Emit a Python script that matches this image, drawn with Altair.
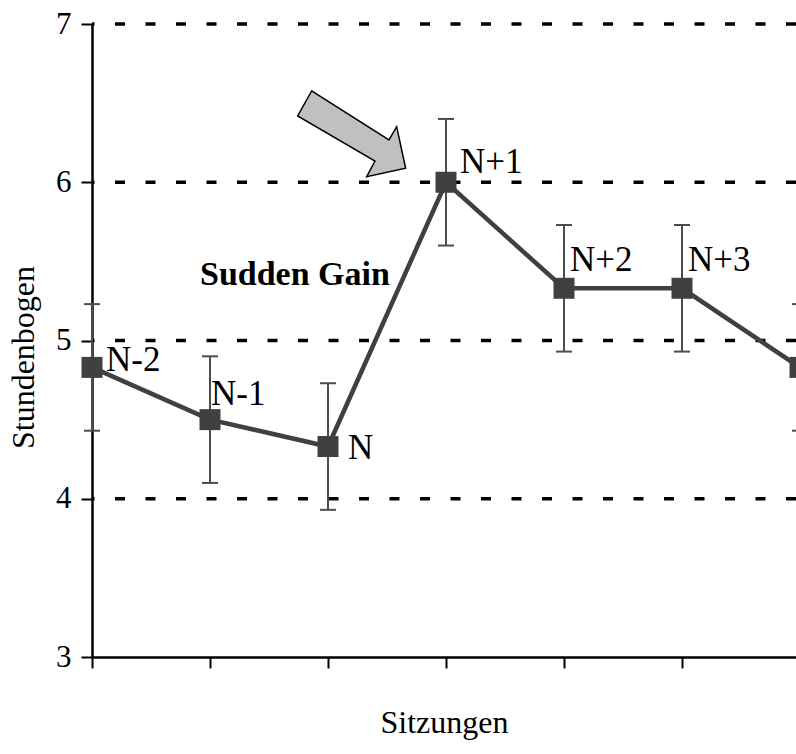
import altair as alt
import pandas as pd

# Session means with their error ranges
sessions = ["N-2", "N-1", "N", "N+1", "N+2", "N+3", "N+4"]
session_pos = [0, 1, 2, 3, 4, 5, 6]
means = [4.83, 4.50, 4.33, 6.00, 5.33, 5.33, 4.83]
errors = [0.40, 0.40, 0.40, 0.40, 0.40, 0.40, 0.40]
y_ticks = [3, 4, 5, 6, 7]
y_grid = [4, 5, 6, 7]
x_ticks = [0, 1, 2, 3, 4, 5]

annotation_text = ["Sudden Gain"]
annotation_x = [0.915]
annotation_y = [5.414]

arrow_x = [2.203]
arrow_y = [6.305]

df = pd.DataFrame({"pos": session_pos, "label": sessions, "mean": means, "err": errors})
df["lo"] = df["mean"] - df["err"]
df["hi"] = df["mean"] + df["err"]

grid_df = pd.DataFrame({"level": y_grid})
note_df = pd.DataFrame({"x": annotation_x, "y": annotation_y, "text": annotation_text})
arrow_df = pd.DataFrame({"x": arrow_x, "y": arrow_y})

FONT = "Liberation Serif"
LINE_COLOR = "#404040"
ERR_COLOR = "#4d4d4d"

PLOT_W = 704
PLOT_H = 633
STEP = 118.0

x_scale = alt.Scale(domain=[0, PLOT_W / STEP], nice=False, zero=False)
y_scale = alt.Scale(domain=[3, 7], nice=False, zero=False)

x_axis = alt.Axis(
    values=x_ticks, labels=False, grid=False, title="Sitzungen",
    domainColor="black", domainWidth=2.5, tickColor="black", tickWidth=2, tickSize=11,
    titleFont=FONT, titleFontSize=32, titleFontWeight="normal", titleColor="black",
    titleX=352, titleY=65, titleAlign="center", titleBaseline="middle",
)
y_axis = alt.Axis(
    values=y_ticks, grid=False,
    domainColor="black", domainWidth=2.5, tickColor="black", tickWidth=2, tickSize=11,
    labelFont=FONT, labelFontSize=31, labelColor="black", labelPadding=10,
    title="Stundenbogen", titleFont=FONT, titleFontSize=32, titleFontWeight="normal",
    titleColor="black", titleAngle=270, titleX=-69, titleY=333,
    titleAlign="center", titleBaseline="middle",
)

X = alt.X("pos:Q", scale=x_scale, axis=x_axis)
Y = alt.Y("mean:Q", scale=y_scale, axis=y_axis)

base = alt.Chart(df)

# dashed horizontal reference lines
grid = alt.Chart(grid_df).mark_rule(color="black", strokeWidth=3.5, strokeDash=[10, 20.5]).encode(
    y=alt.Y("level:Q", scale=y_scale, axis=y_axis),
)

err_rule = base.mark_rule(color=ERR_COLOR, strokeWidth=2).encode(
    x=X, y=alt.Y("lo:Q", scale=y_scale, axis=y_axis), y2="hi:Q",
)
cap_lo = base.mark_tick(color=ERR_COLOR, orient="horizontal", size=16, thickness=2, opacity=1).encode(
    x=X, y=alt.Y("lo:Q", scale=y_scale, axis=y_axis),
)
cap_hi = base.mark_tick(color=ERR_COLOR, orient="horizontal", size=16, thickness=2, opacity=1).encode(
    x=X, y=alt.Y("hi:Q", scale=y_scale, axis=y_axis),
)

line = base.mark_line(color=LINE_COLOR, strokeWidth=4.5).encode(x=X, y=Y)

markers = base.mark_point(shape="square", size=441, filled=True, color=LINE_COLOR, opacity=1).encode(
    x=X, y=Y,
)

# per-label placement around each marker (pixel offsets)
label_offsets = {
    "N-2": (14, -7),
    "N-1": (1, -26),
    "N": (20, 1),
    "N+1": (14, -20),
    "N+2": (6, -28),
    "N+3": (6, -28),
}
label_layers = []
for name, (ox, oy) in label_offsets.items():
    label_layers.append(
        base.transform_filter(alt.datum.label == name)
        .mark_text(font=FONT, fontSize=35, color="black", align="left", baseline="middle", dx=ox, dy=oy)
        .encode(x=X, y=Y, text="label:N")
    )

note = alt.Chart(note_df).mark_text(
    font=FONT, fontSize=34, fontWeight="bold", color="black", align="left", baseline="middle"
).encode(
    x=alt.X("x:Q", scale=x_scale, axis=x_axis),
    y=alt.Y("y:Q", scale=y_scale, axis=y_axis),
    text="text:N",
)

# block arrow pointing at the jump; size=4 keeps the path in pixel units
arrow_path = "M-40.3,-43 L37,6 L44.7,-7.3 L53.7,34.3 L14.7,42.7 L23,27 L-54.3,-18 Z"
arrow = alt.Chart(arrow_df).mark_point(
    shape=arrow_path, size=4, fill="#c0c0c0", stroke="black", strokeWidth=1.5,
    fillOpacity=1, strokeOpacity=1, opacity=1,
).encode(
    x=alt.X("x:Q", scale=x_scale, axis=x_axis),
    y=alt.Y("y:Q", scale=y_scale, axis=y_axis),
)

chart = alt.layer(
    grid, err_rule, cap_lo, cap_hi, line, markers, *label_layers, note, arrow
).properties(
    width=PLOT_W, height=PLOT_H,
    autosize=alt.AutoSizeParams(type="none"),
    padding={"left": 92, "top": 24, "right": 0, "bottom": 97},
    background="white",
).configure_view(stroke=None)

chart.save("out.html", embed_options={"renderer": "svg", "actions": False})
